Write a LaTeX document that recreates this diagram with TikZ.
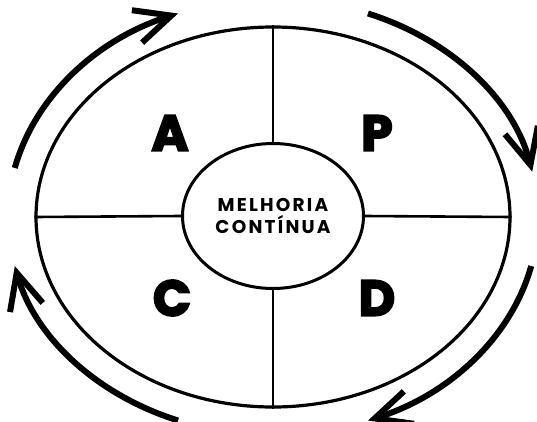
\documentclass[tikz,border=0pt]{standalone}
\usepackage{fontspec}
\usetikzlibrary{shapes.geometric,arrows.meta}
\setmainfont{Poppins}
\newfontfamily\heavyfont{Poppins}[FakeBold=4]
\newfontfamily\labelfont{Poppins}[LetterSpace=12]

\begin{document}
\begin{tikzpicture}[
    x=1pt, y=1pt,
    ring/.style={
        draw,
        ellipse,
        line width=3.2pt,
        minimum width=474pt,
        minimum height=380pt,
        inner sep=0pt
    },
    core/.style={
        draw,
        ellipse,
        line width=3pt,
        minimum width=181pt,
        minimum height=145pt,
        inner sep=0pt,
        align=center,
        font=\labelfont\bfseries\fontsize{18.5}{21.5}\selectfont
    },
    letter/.style={
        font=\heavyfont\bfseries\fontsize{50}{50}\selectfont,
        inner sep=0pt
    },
    split/.style={
        line width=2.6pt
    },
    turn/.style={
        line width=6pt,
        -{Straight Barb[length=36pt,width=34pt,line width=6pt]}
    }
]
\useasboundingbox (-273,-204) rectangle (264,217);

% ============================================================
% CYCLE — OUTER RING AND CENTRE
% ============================================================

\node[ring] (outer) at (0,0) {};
\node[core] (core) at (0,1) {MELHORIA\\CONTÍNUA};

% Quadrant lines
\draw[split] (outer.north) -- (core.north);
\draw[split] (core.south) -- (outer.south);
\draw[split] (outer.west) -- (core.west);
\draw[split] (core.east) -- (outer.east);

% Quadrant letters
\node[letter] (act) at (-103,84) {A};
\node[letter] (plan) at (104,84) {P};
\node[letter] (check) at (-101,-81) {C};
\node[letter] (do) at (104,-81) {D};

% ============================================================
% TURNING ARROWS — clockwise around the ring
% ============================================================

\draw[turn] (167:265pt and 218pt) arc[start angle=167, end angle=111, x radius=265pt, y radius=218pt];
\draw[turn] (69:265pt and 218pt) arc[start angle=69, end angle=12, x radius=265pt, y radius=218pt];
\draw[turn] (-13:265pt and 218pt) arc[start angle=-13, end angle=-69, x radius=265pt, y radius=218pt];
\draw[turn] (-111:265pt and 218pt) arc[start angle=-111, end angle=-167, x radius=265pt, y radius=218pt];

\end{tikzpicture}
\end{document}
